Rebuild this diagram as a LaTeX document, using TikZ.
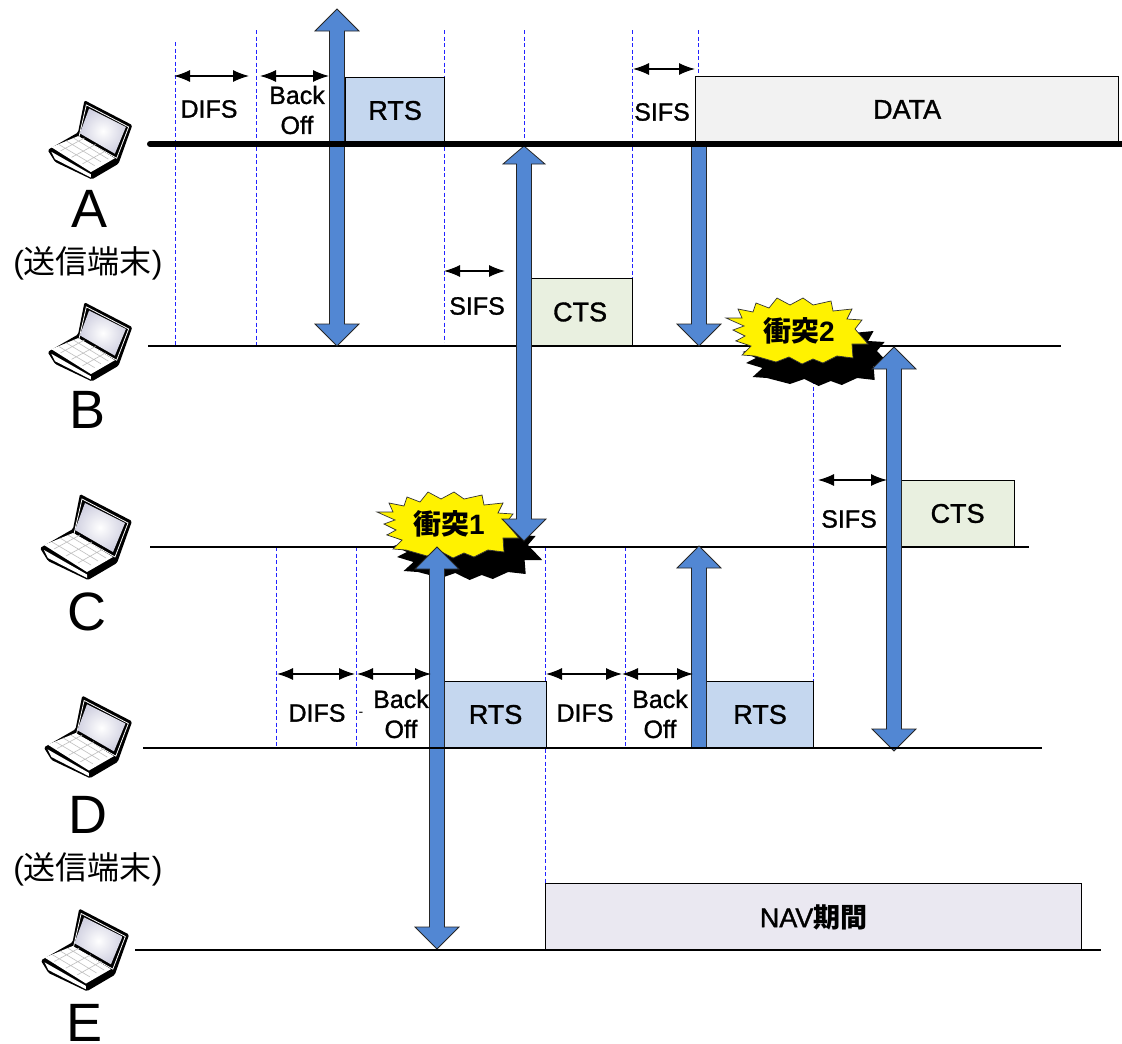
\documentclass[tikz,border=0pt]{standalone}
\usetikzlibrary{arrows.meta}
\usepackage{fontspec}
\setmainfont{Liberation Sans}
\newfontfamily\labfont[FakeBold=1.2]{Liberation Sans}
\newfontfamily\cjk{Noto Sans CJK JP}
\definecolor{arrowblue}{HTML}{5287D3}
\definecolor{rtsfill}{HTML}{C5D7EF}
\definecolor{ctsfill}{HTML}{E9F0E0}
\definecolor{datafill}{HTML}{F2F2F2}
\definecolor{navfill}{HTML}{EAE8F1}
\definecolor{dashblue}{HTML}{2222FF}
\newcommand\fsz[1]{\fontsize{#1}{#1}\selectfont}
\newcommand\up[1]{\raisebox{1.5pt}{#1}}
% block arrows: x, top, bottom
\newcommand\dblblock[3]{\draw[blockarrow] (#1-7.5,#2+22) -- (#1-22,#2+22) -- (#1,#2) -- (#1+22,#2+22) -- (#1+7.5,#2+22) -- (#1+7.5,#3-22) -- (#1+22,#3-22) -- (#1,#3) -- (#1-22,#3-22) -- (#1-7.5,#3-22) -- cycle;}
\newcommand\dblblocksmall[3]{\draw[blockarrow] (#1-7.5,#2+18) -- (#1-21,#2+18) -- (#1,#2) -- (#1+21,#2+18) -- (#1+7.5,#2+18) -- (#1+7.5,#3-22) -- (#1+22,#3-22) -- (#1,#3) -- (#1-22,#3-22) -- (#1-7.5,#3-22) -- cycle;}
\newcommand\upblock[3]{\draw[blockarrow] (#1-7.5,#2+22) -- (#1-22,#2+22) -- (#1,#2) -- (#1+22,#2+22) -- (#1+7.5,#2+22) -- (#1+7.5,#3) -- (#1-7.5,#3) -- cycle;}
\newcommand\downblock[3]{\draw[blockarrow] (#1-7.5,#2) -- (#1+7.5,#2) -- (#1+7.5,#3-22) -- (#1+22,#3-22) -- (#1,#3) -- (#1-22,#3-22) -- (#1-7.5,#3-22) -- cycle;}
\newcommand\burstpath{(-70,-13) -- (-54,-13) -- (-58,-22) -- (-43,-19) -- (-40,-28) -- (-27,-23) -- (-19,-33) -- (-6,-26) -- (7,-33) -- (17,-26) -- (35,-30) -- (37,-20) -- (56,-22) -- (51,-12) -- (66,-11) -- (59,-2) -- (72,13) -- (56,13) -- (57,27) -- (41,25) -- (27,32) -- (17,28) -- (6,33) -- (-7,26) -- (-20,31) -- (-41,25) -- (-54,24) -- (-45,15) -- (-60,10) -- (-51,5) -- (-63,-1) -- (-52,-5) -- cycle}
\tikzset{
  x=1pt,y=-1pt,
  blockarrow/.style={fill=arrowblue,draw=black!85,line width=0.8pt},
  vdash/.style={draw=dashblue,line width=0.9pt,dash pattern=on 4pt off 2.5pt},
  tline/.style={draw=black,line width=1.2pt},
  slot/.style={draw=black,line width=1.2pt,inner sep=0pt,anchor=north west,font=\labfont\fsz{27}},
  dim/.style={draw=black,line width=1.2pt,{Latex[length=16pt,width=12pt]}-{Latex[length=16pt,width=12pt]}},
  lab/.style={font=\labfont\fsz{25},inner sep=0pt,align=center},
  station/.style={font=\fsz{54},inner sep=0pt},
  role/.style={font=\fsz{32},inner sep=0pt},
  crash/.style={font=\bfseries\fsz{28},inner sep=0pt},
  laptop/.pic={
    \fill[black,rounded corners=1.5pt] (-46,13) -- (-13,-6) -- (-6,-41) -- (46,-14) -- (31,28) -- (2,45) -- (-38,26) -- cycle;
    \draw[white,line width=.8pt] (-4,-36) -- (42,-12) -- (29,22) -- (-12,-1) -- cycle;
    \shade[inner color=white,outer color=blue!35!black!18] (-1,-32) -- (39,-12) -- (27,17) -- (-11,-5) -- cycle;
    \fill[white] (-42,10) -- (-13,-2) -- (27,22) -- (1,37) -- cycle;
    \draw[black!25,line width=.6pt] (-34,7) -- (5,30) (-26,3) -- (12,26) (-18,0) -- (20,23) (-32,14) -- (-6,0) (-20,21) -- (6,7) (-8,28) -- (17,14);
    \fill[white] (-42,15) -- (1,39.5) -- (1,43) -- (-38,23) -- cycle;
  }
}
\begin{document}
\begin{tikzpicture}
\useasboundingbox (0,0) rectangle (1122,1044);
% dashed time markers
\foreach \n/\xx/\ya/\yb in {a/175/42/346,b/256/30/346,c/444/30/342,d/524/30/146,e/632/30/346,f/698/30/76,g/276/547/748,h/356/547/748,i/545/547/950,j/625/547/748,k/813/380/748}{
  \coordinate (v\n a) at (\xx,\ya);
  \coordinate (v\n b) at (\xx,\yb);
  \draw[vdash] (v\n a) -- (v\n b);
}
% frame boxes
\node[slot,fill=rtsfill,minimum width=99pt,minimum height=67pt] (rtsA) at (345,77) {\up{RTS}};
\node[slot,fill=datafill,minimum width=423pt,minimum height=67pt] (dataA) at (695,76) {\up{DATA}};
\node[slot,fill=ctsfill,minimum width=101pt,minimum height=68pt] (ctsB) at (531,278) {\hspace*{-4pt}\up{CTS}};
\node[slot,fill=ctsfill,minimum width=114pt,minimum height=67pt] (ctsC) at (900,480) {\up{CTS}};
\node[slot,fill=rtsfill,minimum width=102pt,minimum height=67pt] (rtsD1) at (444,681) {\up{RTS}};
\node[slot,fill=rtsfill,minimum width=107pt,minimum height=67pt] (rtsD2) at (706,681) {\up{RTS}};
\node[slot,fill=navfill,minimum width=536pt,minimum height=67pt] (nav) at (545,883) {\up{NAV{\cjk\bfseries 期間}}};
% timelines
\coordinate (tBa) at (148,346); \coordinate (tBb) at (1061,346);
\coordinate (tCa) at (150,547); \coordinate (tCb) at (1029,547);
\coordinate (tDa) at (143,748); \coordinate (tDb) at (1042,748);
\coordinate (tEa) at (135,950); \coordinate (tEb) at (1101,950);
\coordinate (tAa) at (150,144); \coordinate (tAb) at (1125,144);
\draw[tline] (tBa) -- (tBb);
\draw[tline] (tCa) -- (tCb);
% collisions
\begin{scope}[shift={(447,525)}]
  \fill[black] [shift={(16,22)},xscale=1.1] \burstpath;
  \draw[fill=yellow,draw=black!80,line width=.7pt] \burstpath;
  \node[crash] (crash1) at (2,-1) {{\cjk\bfseries 衝突}1};
\end{scope}
\begin{scope}[shift={(796,331)}]
  \fill[black] [shift={(16,22)},xscale=1.1] \burstpath;
  \draw[fill=yellow,draw=black!80,line width=.7pt] \burstpath;
  \node[crash] (crash2) at (3,0) {{\cjk\bfseries 衝突}2};
\end{scope}
% block arrows
\dblblock{337}{9}{346}
\dblblocksmall{524}{146}{541}
\downblock{699}{145}{346}
\dblblock{894}{347}{751}
\upblock{699}{546}{748}
\dblblock{437}{547}{949}
% timelines on top
\draw[line width=6pt,line cap=round] (tAa) -- (tAb);
\draw[tline] (tDa) -- (tDb);
\draw[tline] (tEa) -- (tEb);
% duration arrows
\foreach \n/\xa/\xb/\yy in {1/174/249/76,2/260/329/76,3/444/505/271,4/633/695/69,5/818/887/480,6/277/355/674,7/357/431/674,8/546/622/674,9/622/693/674}{
  \coordinate (ds\n) at (\xa,\yy);
  \coordinate (de\n) at (\xb,\yy);
  \draw[dim] (ds\n) -- (de\n);
}
% duration labels
\node[lab] (l1) at (209,109) {DIFS};
\node[lab] (l2) at (297,95) {Back};
\node[lab] (l2b) at (297,125) {Off};
\node[lab] (l3) at (662,112) {SIFS};
\node[lab] (l4) at (477,306) {SIFS};
\node[lab] (l5) at (849,519) {SIFS};
\node[lab] (l6) at (317,713) {DIFS};
\node[lab,font=\fsz{14}] (l6d) at (361,714) {-};
\node[lab] (l7) at (401,699) {Back};
\node[lab] (l7b) at (401,729) {Off};
\node[lab] (l8) at (585,713) {DIFS};
\node[lab] (l9) at (660,699) {Back};
\node[lab] (l9b) at (660,729) {Off};
% stations
\pic[scale=.92] at (90,138) {laptop};
\pic[scale=.92] at (90,340) {laptop};
\pic at (86,535) {laptop};
\pic[scale=.96] at (88,735) {laptop};
\pic[scale=.96] at (85,948) {laptop};
\node[station] (A) at (90,209) {A};
\node[role] (ra) at (88,263) {({\cjk 送信端末})};
\node[station] (B) at (88,410) {B};
\node[station] (C) at (87,612) {C};
\node[station] (D) at (88,815) {D};
\node[role] (rd) at (88,869) {({\cjk 送信端末})};
\node[station] (E) at (85,1023) {E};
\end{tikzpicture}
\end{document}
